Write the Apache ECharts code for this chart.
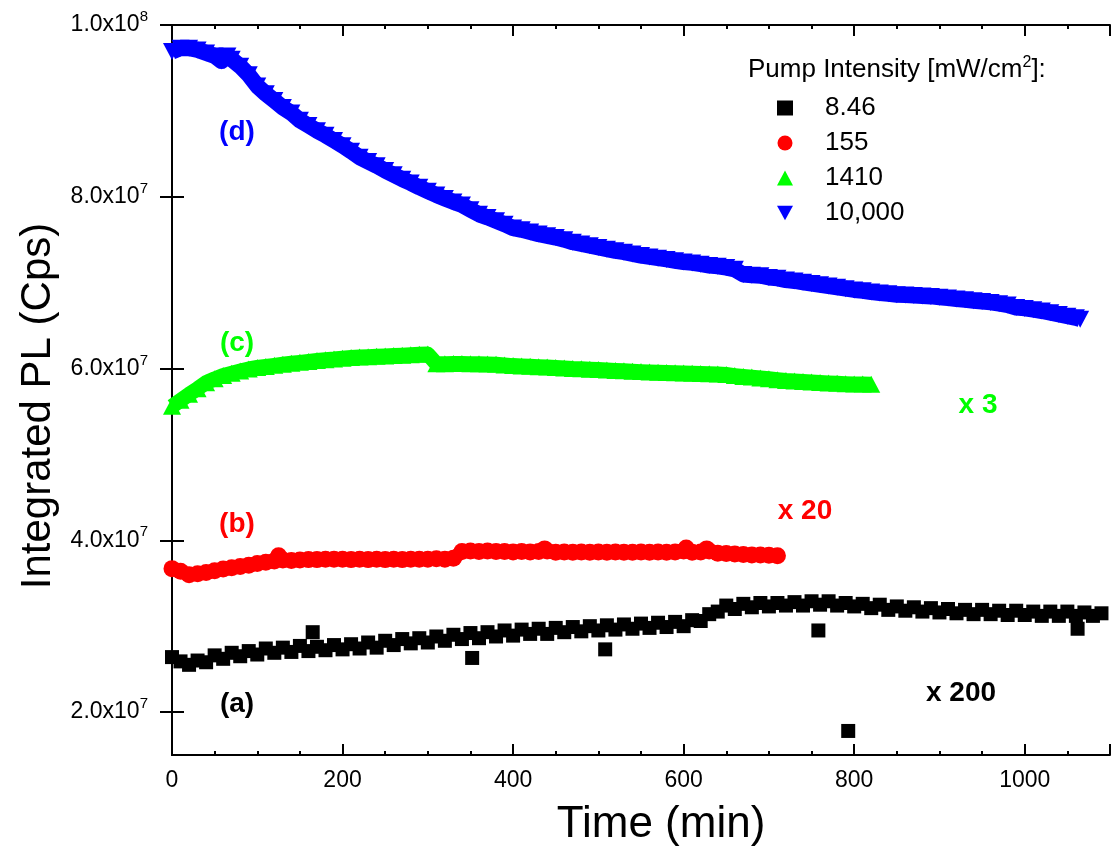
<!DOCTYPE html>
<html><head><meta charset="utf-8">
<script src="https://cdn.jsdelivr.net/npm/echarts@6/dist/echarts.min.js"></script>
<style>html,body{margin:0;padding:0;background:#fff}#c{width:1111px;height:852px}</style>
</head><body><div id="c"></div>
<script>
// ---- data (values in units of 1e7 counts per second) ----
const xTickValues = [0, 200, 400, 600, 800, 1000];
const yTickValues = [2, 4, 6, 8, 10];
const seriesNames = ['8.46', '155', '1410', '10,000'];

// (a) 8.46 mW/cm2, x 200
const aTime = [0,10,20,30,40,50,60,70,80,90,100,110,120,130,140,150,160,165,170,180,190,200,210,220,230,240,250,260,270,280,290,300,310,320,330,340,350,352,360,370,380,390,400,410,420,430,440,450,460,470,480,490,500,508,510,520,530,540,550,560,570,580,590,600,610,620,630,640,650,660,670,680,690,700,710,720,730,740,750,758,760,770,780,790,793,800,810,820,830,840,850,860,870,880,890,900,910,920,930,940,950,960,970,980,990,1000,1010,1020,1030,1040,1050,1060,1062,1070,1080,1090];
const aValue = [2.64,2.59,2.55,2.60,2.58,2.66,2.62,2.69,2.65,2.71,2.67,2.74,2.69,2.75,2.70,2.77,2.71,2.93,2.76,2.72,2.78,2.73,2.79,2.74,2.81,2.75,2.83,2.78,2.85,2.80,2.86,2.81,2.88,2.83,2.90,2.85,2.92,2.63,2.86,2.93,2.88,2.95,2.89,2.96,2.91,2.97,2.91,2.98,2.93,2.99,2.94,3.00,2.95,2.73,3.01,2.96,3.02,2.97,3.03,2.98,3.04,2.99,3.05,3.00,3.07,3.06,3.14,3.17,3.24,3.20,3.26,3.22,3.27,3.23,3.27,3.24,3.28,3.24,3.29,2.95,3.25,3.29,3.24,3.27,1.78,3.23,3.26,3.21,3.25,3.19,3.23,3.18,3.22,3.17,3.21,3.16,3.20,3.15,3.19,3.14,3.19,3.14,3.18,3.13,3.18,3.13,3.17,3.12,3.17,3.12,3.17,3.12,2.97,3.16,3.12,3.15];

// (b) 155 mW/cm2, x 20
const bTime = [0,10,20,30,40,50,60,70,80,90,100,110,120,125,130,140,150,160,170,180,190,200,210,220,230,240,250,260,270,280,290,300,310,320,330,340,350,360,370,380,390,400,410,420,430,437,440,450,460,470,480,490,500,510,520,530,540,550,560,570,580,590,600,603,610,620,627,630,640,650,660,670,680,690,700,710];
const bValue = [3.67,3.64,3.60,3.61,3.625,3.645,3.665,3.68,3.695,3.71,3.73,3.745,3.76,3.82,3.77,3.765,3.77,3.775,3.775,3.78,3.78,3.78,3.775,3.78,3.775,3.78,3.775,3.78,3.775,3.78,3.78,3.78,3.785,3.78,3.79,3.87,3.875,3.87,3.875,3.87,3.87,3.865,3.87,3.865,3.87,3.90,3.875,3.86,3.865,3.86,3.865,3.86,3.865,3.86,3.865,3.86,3.86,3.865,3.86,3.865,3.86,3.865,3.875,3.91,3.86,3.865,3.90,3.875,3.85,3.845,3.84,3.835,3.83,3.83,3.825,3.82];

// (c) 1410 mW/cm2, x 3
const cTime = [0,10,20,30,40,50,60,70,80,90,100,110,120,130,140,150,160,170,180,190,200,210,220,230,240,250,260,270,280,290,300,310,320,330,340,350,360,370,380,390,400,410,420,430,440,450,460,470,480,490,500,510,520,530,540,550,560,570,580,590,600,610,620,630,640,650,660,670,680,690,700,710,720,730,740,750,760,770,780,790,800,810,820];
const cValue = [5.56,5.63,5.70,5.765,5.835,5.88,5.92,5.945,5.97,5.995,6.012,6.025,6.037,6.05,6.062,6.072,6.082,6.093,6.103,6.11,6.12,6.128,6.134,6.138,6.142,6.147,6.151,6.155,6.16,6.165,6.168,6.055,6.056,6.058,6.058,6.057,6.055,6.053,6.05,6.042,6.034,6.029,6.026,6.022,6.018,6.012,6.006,6.0,5.997,5.993,5.988,5.983,5.978,5.973,5.968,5.964,5.96,5.956,5.953,5.95,5.947,5.944,5.941,5.938,5.936,5.93,5.918,5.908,5.9,5.89,5.88,5.87,5.861,5.855,5.848,5.842,5.837,5.832,5.828,5.824,5.82,5.82,5.818];

// (d) 10,000 mW/cm2
const dTime = [0,10,20,30,40,50,58,65,70,80,90,100,110,120,130,140,150,160,170,180,190,200,210,220,230,240,250,260,270,280,290,300,310,320,330,340,350,360,370,380,390,400,410,420,430,440,450,460,470,480,490,500,510,520,530,540,550,560,570,580,590,600,610,620,630,640,650,660,670,680,690,700,710,720,730,740,750,760,770,780,790,800,810,820,830,840,850,860,870,880,890,900,910,920,930,940,950,960,970,980,990,1000,1010,1020,1030,1040,1050,1060,1065];
const dValue = [9.69,9.73,9.73,9.71,9.675,9.64,9.58,9.64,9.60,9.52,9.42,9.29,9.20,9.12,9.04,8.975,8.89,8.83,8.77,8.715,8.655,8.595,8.53,8.46,8.41,8.36,8.305,8.255,8.205,8.16,8.11,8.065,8.02,7.98,7.94,7.905,7.85,7.795,7.76,7.72,7.68,7.635,7.615,7.59,7.565,7.545,7.525,7.50,7.47,7.45,7.43,7.41,7.39,7.37,7.355,7.335,7.315,7.30,7.285,7.27,7.255,7.24,7.23,7.215,7.20,7.19,7.175,7.155,7.095,7.085,7.08,7.06,7.05,7.03,7.02,7.005,6.99,6.975,6.96,6.945,6.93,6.915,6.905,6.89,6.88,6.87,6.86,6.855,6.85,6.845,6.84,6.83,6.82,6.81,6.80,6.79,6.78,6.77,6.755,6.74,6.71,6.70,6.685,6.67,6.65,6.63,6.61,6.59,6.575];

// ---- chart ----
const FONT = 'Liberation Sans, Arial, sans-serif';
const pairs = (t, v) => t.map((x, i) => [x, v[i]]);
const DOWN_TRI = 'path://M0,0L10,0L5,9Z';
const chart = echarts.init(document.getElementById('c'), null, {renderer: 'canvas'});

const axisLineStyle = {color: '#000', width: 2};
const yLabelFmt = v => {
  const exp = v >= 10 ? 8 : 7;
  const m = v >= 10 ? v / 10 : v;
  return '{m|' + m.toFixed(1) + 'x10}{e|' + exp + '}';
};
const band = (name, t, v, color, symbol, size, width) => ({
  name, type: 'line', data: pairs(t, v), symbol, symbolSize: size, symbolKeepAspect: false,
  showSymbol: true, showAllSymbol: true, smooth: false,
  lineStyle: {color, width, join: 'round', cap: 'butt'},
  itemStyle: {color, opacity: 1, borderWidth: 0},
  emphasis: {disabled: true}
});

chart.setOption({
  animation: false,
  backgroundColor: '#fff',
  grid: {left: 172, right: 1, top: 25, bottom: 96, containLabel: false},
  xAxis: [{
    type: 'value', position: 'bottom', min: 0, max: 1100, interval: 200,
    name: 'Time (min)', nameLocation: 'middle', nameGap: 48,
    nameTextStyle: {fontFamily: FONT, fontSize: 44, color: '#000', padding: [0, 0, 0, 40]},
    axisLine: {lineStyle: axisLineStyle},
    axisTick: {inside: true, length: 11, lineStyle: {color: '#000', width: 2}},
    minorTick: {show: true, splitNumber: 4, length: 4, lineStyle: {color: '#000', width: 2}},
    axisLabel: {fontFamily: FONT, fontSize: 23, color: '#000', margin: 14, showMaxLabel: false,
      formatter: v => (xTickValues.indexOf(v) >= 0 ? String(v) : '')},
    splitLine: {show: false}
  }, {
    type: 'value', position: 'top', min: 0, max: 1100, interval: 200,
    axisLine: {lineStyle: axisLineStyle},
    axisTick: {inside: true, length: 11, lineStyle: {color: '#000', width: 2}},
    minorTick: {show: true, splitNumber: 4, length: 4, lineStyle: {color: '#000', width: 2}},
    axisLabel: {show: false}, splitLine: {show: false}
  }],
  yAxis: [{
    type: 'value', position: 'left', min: 1.5, max: 10,
    name: 'Integrated PL (Cps)', nameLocation: 'middle', nameGap: 113,
    nameTextStyle: {fontFamily: FONT, fontSize: 42, color: '#000', padding: [0, 32, 0, 0]},
    axisLine: {lineStyle: axisLineStyle},
    axisTick: {inside: true, length: 12, customValues: yTickValues, lineStyle: {color: '#000', width: 2}},
    axisLabel: {customValues: yTickValues, margin: 24, formatter: yLabelFmt,
      rich: {
        m: {fontFamily: FONT, fontSize: 23, color: '#000'},
        e: {fontFamily: FONT, fontSize: 15, color: '#000', padding: [0, 0, 16, 0]}
      }},
    splitLine: {show: false}
  }, {
    type: 'value', position: 'right', min: 1.5, max: 10,
    axisLine: {lineStyle: axisLineStyle},
    axisTick: {inside: true, length: 12, customValues: yTickValues, lineStyle: {color: '#000', width: 2}},
    axisLabel: {show: false}, splitLine: {show: false}
  }],
  legend: {
    orient: 'vertical', left: 772, top: 90, itemWidth: 16, itemHeight: 15, itemGap: 9,
    data: [
      {name: seriesNames[0], icon: 'rect'},
      {name: seriesNames[1], icon: 'circle'},
      {name: seriesNames[2], icon: 'triangle'},
      {name: seriesNames[3], icon: DOWN_TRI}
    ],
    textStyle: {fontFamily: FONT, fontSize: 26, color: '#000', lineHeight: 26, padding: [0, 0, 0, 27]}
  },
  series: [
    {name: seriesNames[0], type: 'scatter', data: pairs(aTime, aValue), symbol: 'rect', symbolSize: 14,
      itemStyle: {color: '#000000', opacity: 1}, emphasis: {disabled: true}},
    band(seriesNames[1], bTime, bValue, '#FF0000', 'circle', 17, 14),
    band(seriesNames[2], cTime, cValue, '#00FF00', 'triangle', [18, 17], 15),
    band(seriesNames[3], dTime, dValue, '#0000FF', DOWN_TRI, [18, 17], 16)
  ],
  graphic: [
    {type: 'text', x: 748, y: 70, style: {text: '{t|Pump Intensity [mW/cm}{s|2}{t|]:}', verticalAlign: 'middle',
      rich: {t: {fontFamily: FONT, fontSize: 26, fill: '#000'}, s: {fontFamily: FONT, fontSize: 16, fill: '#000', padding: [0, 0, 14, 0]}}}},
    {type: 'text', x: 237, y: 132, style: {text: '(d)', align: 'center', verticalAlign: 'middle', fontFamily: FONT, fontSize: 28, fontWeight: 'bold', fill: '#0000FF'}},
    {type: 'text', x: 237, y: 343, style: {text: '(c)', align: 'center', verticalAlign: 'middle', fontFamily: FONT, fontSize: 28, fontWeight: 'bold', fill: '#00FF00'}},
    {type: 'text', x: 237, y: 524, style: {text: '(b)', align: 'center', verticalAlign: 'middle', fontFamily: FONT, fontSize: 28, fontWeight: 'bold', fill: '#FF0000'}},
    {type: 'text', x: 237, y: 704, style: {text: '(a)', align: 'center', verticalAlign: 'middle', fontFamily: FONT, fontSize: 28, fontWeight: 'bold', fill: '#000000'}},
    {type: 'text', x: 978, y: 405, style: {text: 'x 3', align: 'center', verticalAlign: 'middle', fontFamily: FONT, fontSize: 28, fontWeight: 'bold', fill: '#00FF00'}},
    {type: 'text', x: 805, y: 511, style: {text: 'x 20', align: 'center', verticalAlign: 'middle', fontFamily: FONT, fontSize: 28, fontWeight: 'bold', fill: '#FF0000'}},
    {type: 'text', x: 961, y: 693, style: {text: 'x 200', align: 'center', verticalAlign: 'middle', fontFamily: FONT, fontSize: 28, fontWeight: 'bold', fill: '#000000'}}
  ]
});
</script>
</body></html>
